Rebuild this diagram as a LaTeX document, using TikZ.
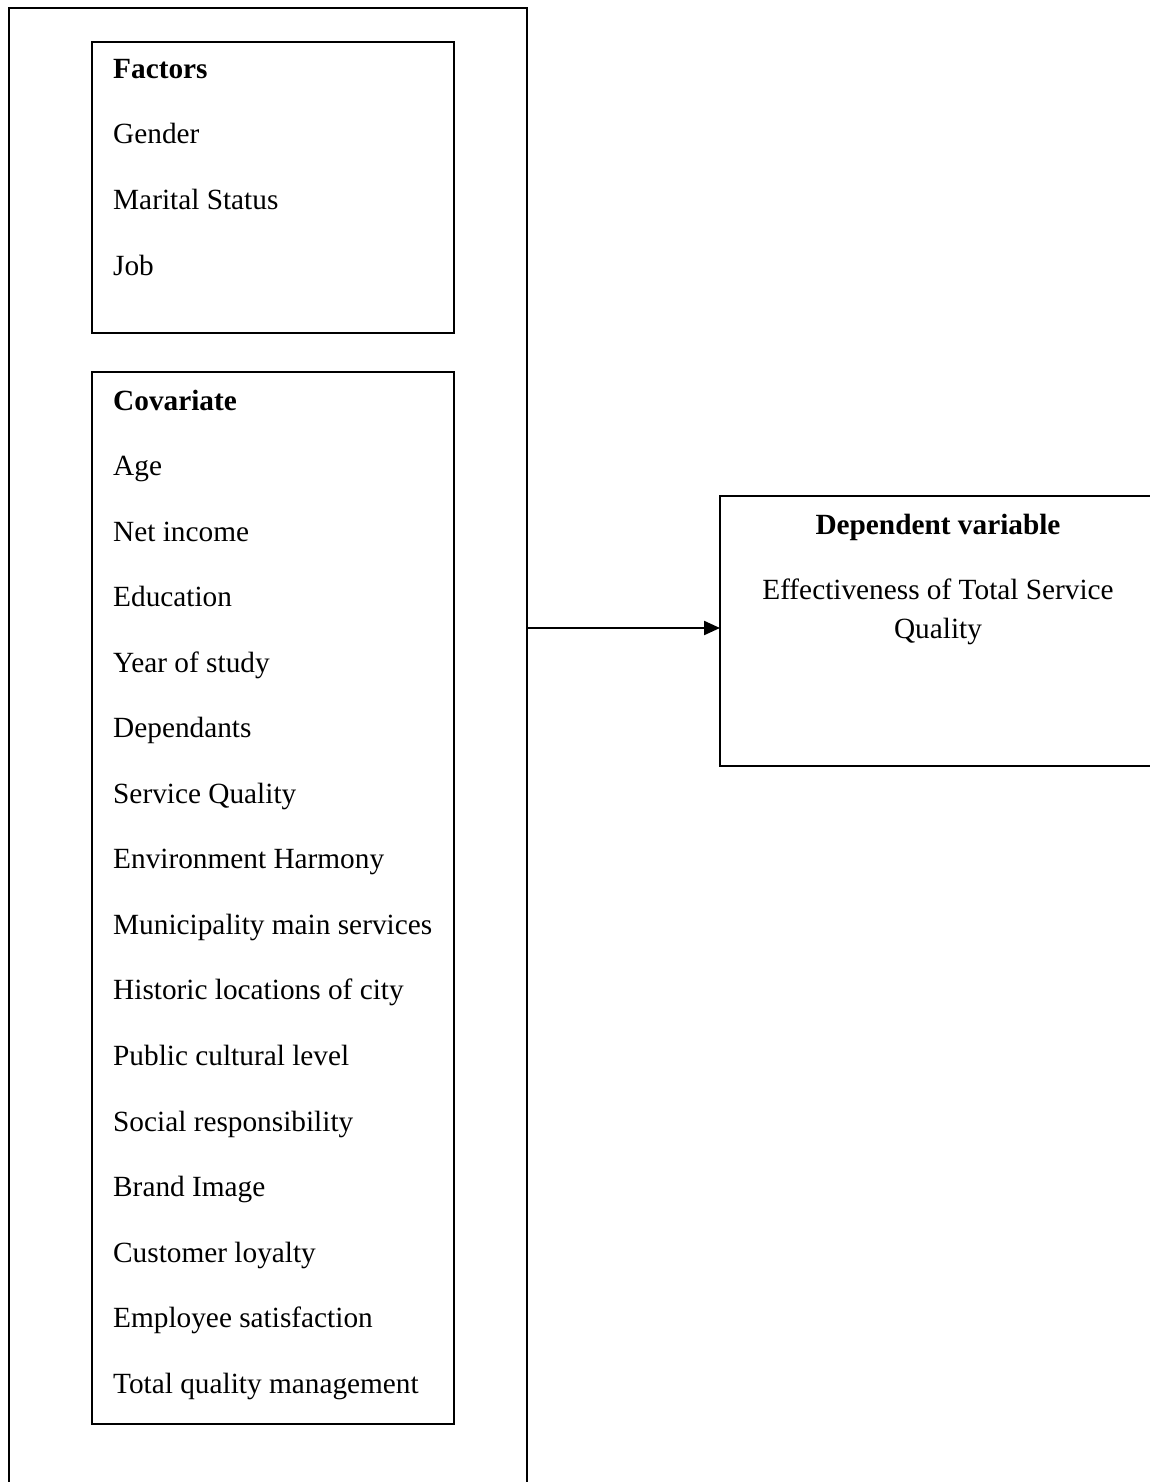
\documentclass[tikz,border=0pt]{standalone}
\usepackage{fontspec}
\setmainfont{Liberation Serif}
\usetikzlibrary{arrows.meta}
\begin{document}
\begin{tikzpicture}[x=1pt,y=-1pt,
  frame/.style={draw=black,line width=2.2pt},
  boxnode/.style={draw=black,line width=2.2pt,rectangle,inner sep=0pt},
  item/.style={anchor=base west,inner sep=0pt,font=\fontsize{29.3}{34}\selectfont},
  head/.style={item,font=\fontsize{29.3}{34}\selectfont\bfseries},
  ctext/.style={anchor=base,inner sep=0pt,font=\fontsize{29.3}{34}\selectfont},
  arr/.style={line width=2.2pt,-{Triangle[length=16pt,width=14pt]}}]
\useasboundingbox (0,0) rectangle (1150,1482);
\fill[white] (0,0) rectangle (1150,1482);
% outer frame (open at bottom)
\coordinate (obl) at (9,1490);
\coordinate (otl) at (9,8);
\coordinate (otr) at (527,8);
\coordinate (obr) at (527,1490);
\draw[frame] (obl) -- (otl) -- (otr) -- (obr);
% factors box
\node[boxnode,minimum width=362pt,minimum height=291pt] (factors) at (273,187.5) {};
\node[head] (fh) at (113,79) {Factors};
\node[item] (f1) at (113,144) {Gender};
\node[item] (f2) at (113,209) {Marital Status};
\node[item] (f3) at (113,275) {Job};
% covariate box
\node[boxnode,minimum width=362pt,minimum height=1052pt] (cov) at (273,898) {};
\node[head] (ch) at (113,410) {Covariate};
\foreach \t [count=\i] in {Age,Net income,Education,Year of study,Dependants,Service Quality,Environment Harmony,Municipality main services,Historic locations of city,Public cultural level,Social responsibility,Brand Image,Customer loyalty,Employee satisfaction,Total quality management}
  \node[item] (c\i) at (113,{410+65.55*\i}) {\t};
% dependent box (open at right)
\coordinate (dtl) at (720,496);
\coordinate (dbl) at (720,766);
\coordinate (dtr) at (1152,496);
\coordinate (dbr) at (1152,766);
\draw[frame] (dtr) -- (dtl) -- (dbl) -- (dbr);
\node[ctext,font=\fontsize{29.3}{34}\selectfont\bfseries] (dh) at (938,534) {Dependent variable};
\node[ctext] (d1) at (938,599) {Effectiveness of Total Service};
\node[ctext] (d2) at (938,638) {Quality};
% arrow
\coordinate (src) at (527,628);
\coordinate (dst) at (720,628);
\draw[arr] (src) -- (dst);
\end{tikzpicture}
\end{document}
